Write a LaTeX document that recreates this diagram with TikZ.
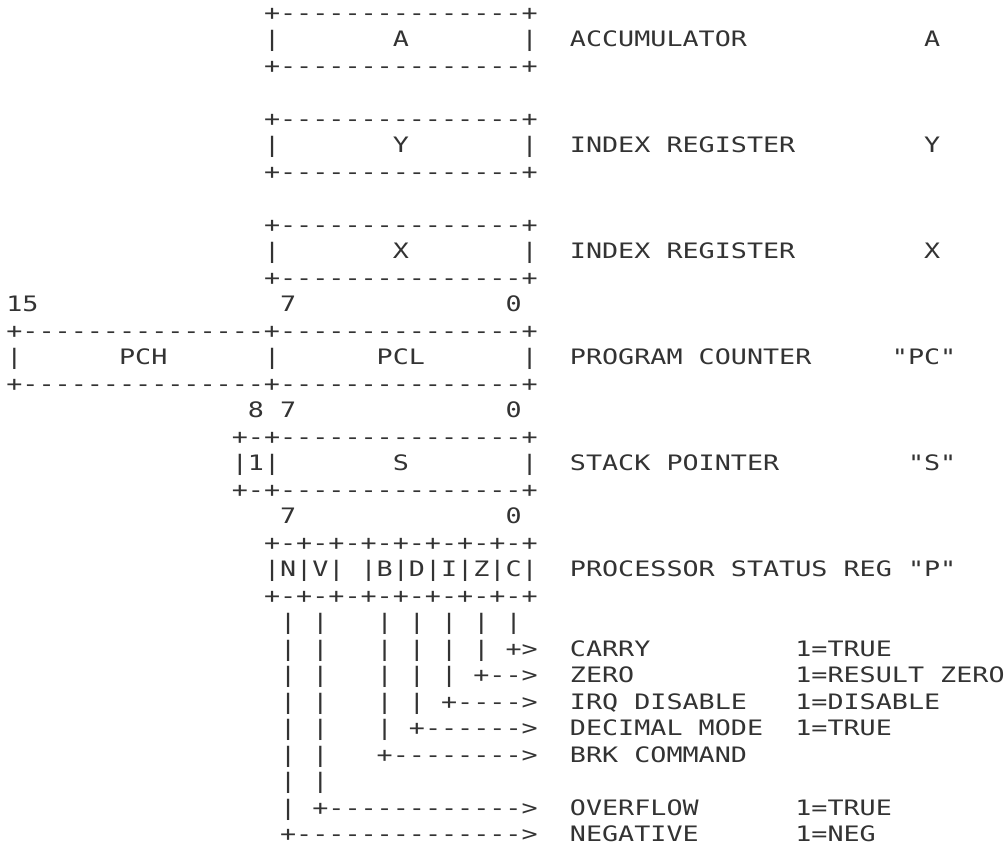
\documentclass[tikz,border=0pt]{standalone}
\usepackage{fontspec}
\newfontfamily\asciifont{DejaVu Sans Mono}[FakeStretch=1.2578, Ligatures=TeXOff]
\definecolor{ink}{HTML}{333333}

\begin{document}
\begin{tikzpicture}[x=16.1pt, y=-26.5pt,
    txt/.style={anchor=base west, inner sep=0pt, outer sep=0pt, yshift=-7.75pt,
                text=ink, font=\asciifont\fontsize{21.26pt}{26.5pt}\selectfont}]
    \useasboundingbox (-0.3975,-0.4717) rectangle (61.96,31.53);

    % Accumulator
    \node[txt] (accTop) at (16,0) {+---------------+};
    \node[txt] (accL) at (16,1) {|};
    \node[txt] (accIn) at (24,1) {A};
    \node[txt] (accR) at (32,1) {|};
    \node[txt] (accBot) at (16,2) {+---------------+};
    \node[txt] (accText) at (35,1) {ACCUMULATOR};
    \node[txt] (accTag) at (57,1) {A};

    % Index register Y
    \node[txt] (yTop) at (16,4) {+---------------+};
    \node[txt] (yL) at (16,5) {|};
    \node[txt] (yIn) at (24,5) {Y};
    \node[txt] (yR) at (32,5) {|};
    \node[txt] (yBot) at (16,6) {+---------------+};
    \node[txt] (yText) at (35,5) {INDEX REGISTER};
    \node[txt] (yTag) at (57,5) {Y};

    % Index register X
    \node[txt] (xTop) at (16,8) {+---------------+};
    \node[txt] (xL) at (16,9) {|};
    \node[txt] (xIn) at (24,9) {X};
    \node[txt] (xR) at (32,9) {|};
    \node[txt] (xBot) at (16,10) {+---------------+};
    \node[txt] (xText) at (35,9) {INDEX REGISTER};
    \node[txt] (xTag) at (57,9) {X};

    % Program counter, bits 15 .. 0
    \node[txt] (pcBit15) at (0,11) {15};
    \node[txt] (pcBit7) at (17,11) {7};
    \node[txt] (pcBit0) at (31,11) {0};
    \node[txt] (pcTop) at (0,12) {+---------------+---------------+};
    \node[txt] (pcL) at (0,13) {|};
    \node[txt] (pch) at (7,13) {PCH};
    \node[txt] (pcM) at (16,13) {|};
    \node[txt] (pcl) at (23,13) {PCL};
    \node[txt] (pcR) at (32,13) {|};
    \node[txt] (pcBot) at (0,14) {+---------------+---------------+};
    \node[txt] (pcText) at (35,13) {PROGRAM COUNTER};
    \node[txt] (pcTag) at (55,13) {"PC"};

    % Stack pointer, bit 8 fixed to 1
    \node[txt] (spBit8) at (15,15) {8};
    \node[txt] (spBit7) at (17,15) {7};
    \node[txt] (spBit0) at (31,15) {0};
    \node[txt] (spTop) at (14,16) {+-+---------------+};
    \node[txt] (spOne) at (14,17) {|1|};
    \node[txt] (spIn) at (24,17) {S};
    \node[txt] (spR) at (32,17) {|};
    \node[txt] (spBot) at (14,18) {+-+---------------+};
    \node[txt] (spText) at (35,17) {STACK POINTER};
    \node[txt] (spTag) at (56,17) {"S"};

    % Processor status register
    \node[txt] (pBit7) at (17,19) {7};
    \node[txt] (pBit0) at (31,19) {0};
    \node[txt] (pTop) at (16,20) {+-+-+-+-+-+-+-+-+};
    \node[txt] (pNV) at (16,21) {|N|V|};
    \node[txt] (pBDIZC) at (22,21) {|B|D|I|Z|C|};
    \node[txt] (pBot) at (16,22) {+-+-+-+-+-+-+-+-+};
    \node[txt] (pText) at (35,21) {PROCESSOR STATUS REG "P"};

    % Flag lines going down
    \foreach \r/\cols in {23/{17,19,23,25,27,29,31}, 24/{17,19,23,25,27,29},
                          25/{17,19,23,25,27}, 26/{17,19,23,25}, 27/{17,19,23},
                          28/{17,19}, 29/{17,19}, 30/{17}}
        \foreach \c in \cols
            \node[txt] (bar-\r-\c) at (\c,\r) {|};

    % Arrows to the flag names
    \node[txt] (carryArr) at (31,24) {+>};
    \node[txt] (zeroArr) at (29,25) {+-->};
    \node[txt] (irqArr) at (27,26) {+---->};
    \node[txt] (decArr) at (25,27) {+------>};
    \node[txt] (brkArr) at (23,28) {+-------->};
    \node[txt] (ovfArr) at (19,30) {+------------>};
    \node[txt] (negArr) at (17,31) {+-------------->};

    % Flag names and meanings
    \node[txt] (carry) at (35,24) {CARRY};
    \node[txt] (carryVal) at (49,24) {1=TRUE};
    \node[txt] (zero) at (35,25) {ZERO};
    \node[txt] (zeroVal) at (49,25) {1=RESULT ZERO};
    \node[txt] (irq) at (35,26) {IRQ DISABLE};
    \node[txt] (irqVal) at (49,26) {1=DISABLE};
    \node[txt] (dec) at (35,27) {DECIMAL MODE};
    \node[txt] (decVal) at (49,27) {1=TRUE};
    \node[txt] (brk) at (35,28) {BRK COMMAND};
    \node[txt] (ovf) at (35,30) {OVERFLOW};
    \node[txt] (ovfVal) at (49,30) {1=TRUE};
    \node[txt] (neg) at (35,31) {NEGATIVE};
    \node[txt] (negVal) at (49,31) {1=NEG};
\end{tikzpicture}
\end{document}
